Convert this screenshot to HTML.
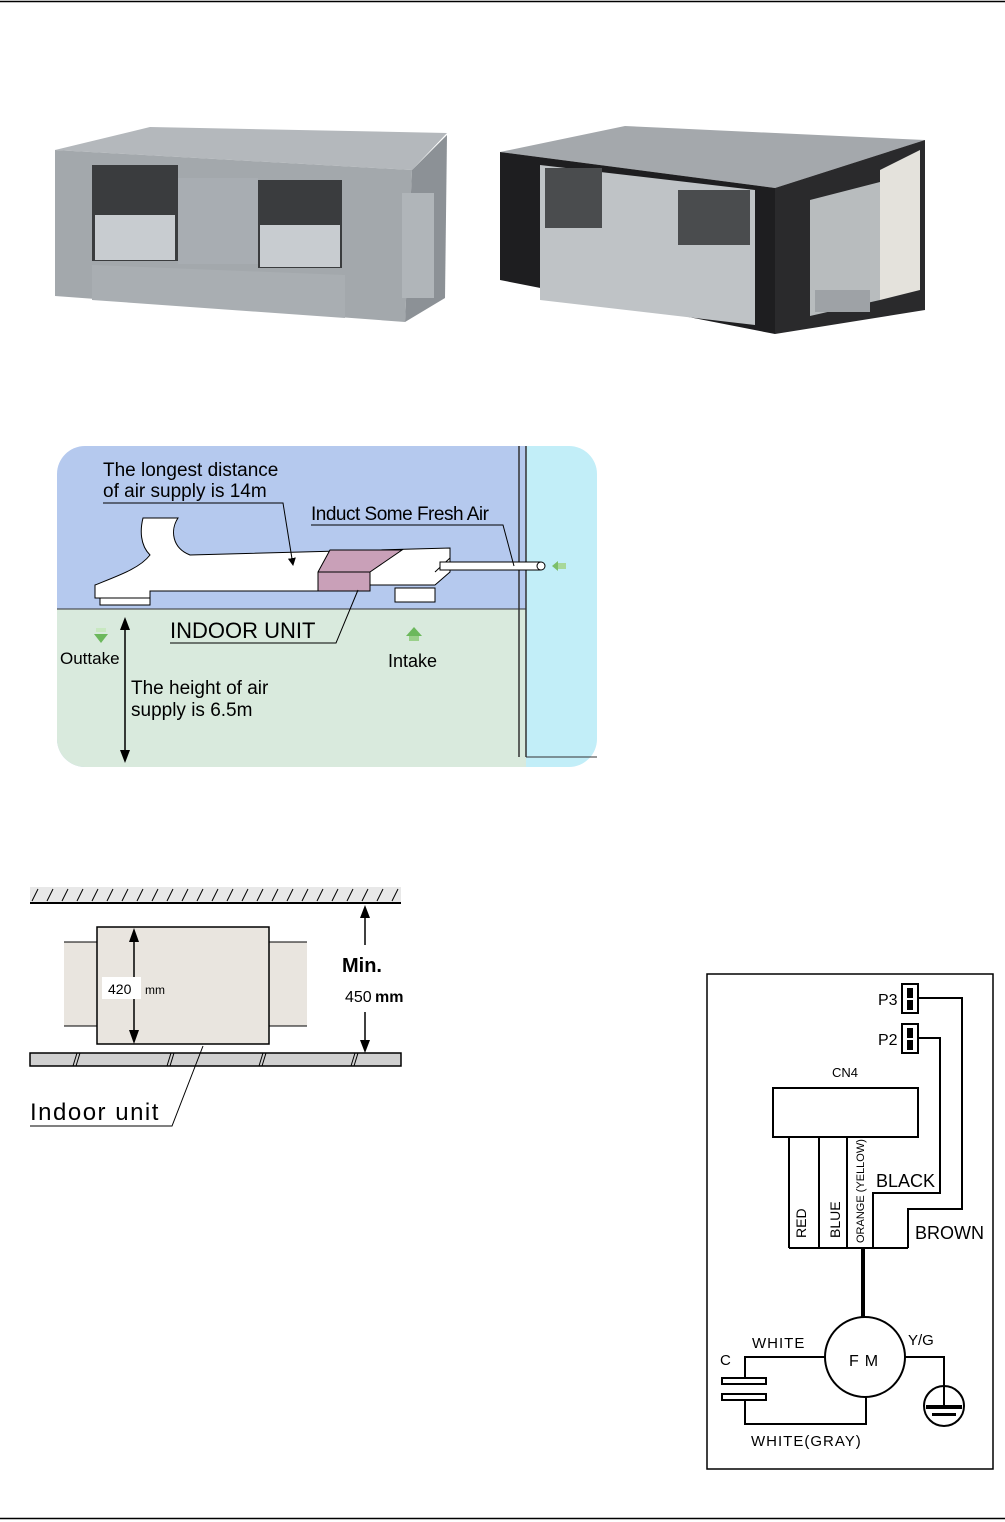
<!DOCTYPE html>
<html><head><meta charset="utf-8"><style>
html,body{margin:0;padding:0;background:#fff}
svg{display:block}
text{font-family:"Liberation Sans",Arial,sans-serif}
</style></head><body>
<svg width="1005" height="1522" viewBox="0 0 1005 1522" xmlns="http://www.w3.org/2000/svg">
<line x1="0" y1="1.5" x2="1005" y2="1.5" stroke="#000" stroke-width="1.5"/>
<line x1="0" y1="1518.5" x2="1005" y2="1518.5" stroke="#000" stroke-width="1.5"/>

<!-- left unit photo -->
<polygon points="55,150 150,127 447,133 412,170" fill="#b4b8bc"/>
<polygon points="55,150 412,170 405,322 55,296" fill="#a3a8ac"/>
<polygon points="412,170 447,135 445,298 405,322" fill="#8c9196"/>
<rect x="92" y="165" width="86" height="96" fill="#3a3c3e"/>
<rect x="258" y="180" width="84" height="88" fill="#3a3c3e"/>
<rect x="95" y="215" width="80" height="45" fill="#c8ccd0"/>
<rect x="260" y="225" width="80" height="42" fill="#c8ccd0"/>
<rect x="178" y="178" width="80" height="86" fill="#a8adb2"/>
<rect x="402" y="193" width="32" height="105" fill="#b0b5b9"/>
<polygon points="92,265 345,275 345,318 92,300" fill="#a9aeb2"/>

<!-- right unit photo -->
<polygon points="500,152 625,126 925,140 775,188" fill="#a4a8ac"/>
<polygon points="500,152 775,188 775,334 500,280" fill="#1e1e20"/>
<polygon points="775,188 925,140 925,310 775,334" fill="#2a2a2c"/>
<polygon points="540,165 755,190 755,325 540,300" fill="#bfc3c6"/>
<rect x="545" y="168" width="57" height="60" fill="#4a4c4e"/>
<rect x="678" y="190" width="72" height="55" fill="#4a4c4e"/>
<polygon points="810,200 880,182 880,300 810,316" fill="#b8bcbe"/>
<polygon points="880,170 920,150 920,290 880,300" fill="#e4e2dc"/>
<rect x="815" y="290" width="55" height="22" fill="#9ea2a6"/>

<!-- air supply diagram -->
<defs><clipPath id="cp"><rect x="57" y="446" width="540" height="321" rx="28"/></clipPath>
<marker id="ah" markerWidth="8" markerHeight="8" refX="7" refY="4" orient="auto"><path d="M0,0 L8,4 L0,8 z" fill="#000"/></marker></defs>
<g clip-path="url(#cp)">
<rect x="57" y="446" width="470" height="321" fill="#b5c9ee"/>
<rect x="57" y="609" width="470" height="160" fill="#d9eadd"/>
<rect x="526" y="446" width="75" height="321" fill="#c2eef8"/>
</g>
<line x1="57" y1="609" x2="526" y2="609" stroke="#333" stroke-width="1"/>
<line x1="519" y1="446" x2="519" y2="757" stroke="#333" stroke-width="1.5"/>
<line x1="526" y1="446" x2="526" y2="757" stroke="#333" stroke-width="1.5"/>
<line x1="526" y1="757" x2="597" y2="757" stroke="#333" stroke-width="1"/>
<!-- duct -->
<rect x="100" y="595" width="50" height="10" fill="#fff" stroke="#000"/>
<rect x="395" y="588" width="40" height="14" fill="#fff" stroke="#000"/>
<path d="M143,518 L178,518 C170,530 172,548 190,555 L450,548 L450,572 L435,585 L330,585 L330,591 L150,591 L150,598 L95,598 L95,585 C120,575 140,568 150,555 C140,545 140,530 143,518 z" fill="#fff" stroke="#000"/>
<polygon points="330,550 402,550 370,572 370,591 318,591 318,572" fill="#c9a0b8" stroke="#000"/>
<line x1="318" y1="572" x2="370" y2="572" stroke="#000"/>
<line x1="435" y1="572" x2="450" y2="558" stroke="#000"/>
<rect x="440" y="562" width="100" height="8" fill="#fff" stroke="#000"/>
<circle cx="541" cy="566" r="4" fill="#fff" stroke="#000"/>
<polygon points="552,566 558,561 558,571" fill="#7cbf6a"/><rect x="558" y="563" width="8" height="6" fill="#a8d89a"/>
<text x="103" y="476" font-size="19">The longest distance</text>
<text x="103" y="497" font-size="19">of air supply is 14m</text>
<polyline points="103,503 283,503 293,565" fill="none" stroke="#000" marker-end="url(#ah)"/>
<text x="311" y="520" font-size="19" letter-spacing="-0.5">Induct Some Fresh Air</text>
<polyline points="311,525 503,525 514,566" fill="none" stroke="#000"/>
<text x="170" y="638" font-size="22">INDOOR UNIT</text>
<polyline points="170,643 336,643 358,590" fill="none" stroke="#000"/>
<line x1="125" y1="620" x2="125" y2="760" stroke="#000" stroke-width="1.5"/>
<path d="M120,630 L125,617 L130,630 z M120,750 L125,763 L130,750 z" fill="#000"/>
<text x="60" y="664" font-size="17">Outtake</text>
<rect x="96" y="628" width="10" height="4" fill="#c8e8c0"/>
<path d="M94,634 L108,634 L101,643 z" fill="#6cb85c"/>
<path d="M406,636 L422,636 L414,627 z" fill="#6cb85c"/><rect x="409" y="636" width="10" height="5" fill="#9ad08a"/>
<text x="388" y="667" font-size="18">Intake</text>
<text x="131" y="694" font-size="19">The height of air</text>
<text x="131" y="716" font-size="19">supply is 6.5m</text>

<!-- clearance diagram -->
<rect x="30" y="887" width="371" height="16" fill="#e8e8e8"/>
<g stroke="#000" stroke-width="1">
<path d="M32,901 L38,889 M47,901 L53,889 M62,901 L68,889 M77,901 L83,889 M92,901 L98,889 M107,901 L113,889 M122,901 L128,889 M137,901 L143,889 M152,901 L158,889 M167,901 L173,889 M182,901 L188,889 M197,901 L203,889 M212,901 L218,889 M227,901 L233,889 M242,901 L248,889 M257,901 L263,889 M272,901 L278,889 M287,901 L293,889 M302,901 L308,889 M317,901 L323,889 M332,901 L338,889 M347,901 L353,889 M362,901 L368,889 M377,901 L383,889 M392,901 L398,889"/>
</g>
<line x1="30" y1="903" x2="401" y2="903" stroke="#000" stroke-width="2"/>
<rect x="30" y="1053" width="371" height="13" fill="#d0d0d0" stroke="#000" stroke-width="1.5"/>
<path d="M73,1066 L77,1053 M76,1066 L80,1053 M167,1066 L171,1053 M170,1066 L174,1053 M259,1066 L263,1053 M262,1066 L266,1053 M351,1066 L355,1053 M354,1066 L358,1053" stroke="#000"/>
<rect x="64" y="942" width="40" height="84" fill="#e9e5df"/>
<rect x="262" y="942" width="45" height="84" fill="#e9e5df"/>
<path d="M64,942 L97,942 M64,1026 L97,1026 M269,942 L307,942 M269,1026 L307,1026" stroke="#000"/>
<rect x="97" y="927" width="172" height="117" fill="#e9e5df" stroke="#000" stroke-width="1.5"/>
<line x1="134" y1="932" x2="134" y2="1040" stroke="#000" stroke-width="1.5"/>
<path d="M129,942 L134,928 L139,942 z M129,1030 L134,1044 L139,1030 z" fill="#000"/>
<rect x="102" y="977" width="39" height="22" fill="#fff"/>
<text x="108" y="994" font-size="14">420</text><text x="145" y="994" font-size="12">mm</text>
<line x1="365" y1="910" x2="365" y2="945" stroke="#000" stroke-width="1.5"/>
<line x1="365" y1="1012" x2="365" y2="1050" stroke="#000" stroke-width="1.5"/>
<path d="M360,918 L365,905 L370,918 z M360,1040 L365,1053 L370,1040 z" fill="#000"/>
<text x="342" y="972" font-size="20" font-weight="bold">Min.</text>
<text x="345" y="1002" font-size="16">450</text><text x="375" y="1002" font-size="16" font-weight="bold">mm</text>
<text x="30" y="1120" font-size="24" letter-spacing="1.5">Indoor  unit</text>
<polyline points="30,1126 172,1126 203,1046" fill="none" stroke="#000"/>

<!-- wiring -->
<rect x="707" y="974" width="286" height="495" fill="none" stroke="#000" stroke-width="1.5"/>
<g fill="none" stroke="#000" stroke-width="2">
<rect x="902" y="984" width="16" height="29"/>
<rect x="902" y="1024" width="16" height="29"/>
<rect x="773" y="1088" width="145" height="49"/>
<polyline points="918,998 962,998 962,1209 908,1209 908,1248"/>
<polyline points="918,1038 940,1038 940,1193 873,1193 873,1248"/>
<path d="M789,1137 V1248 M819,1137 V1248 M847,1137 V1248 M789,1248 H908"/>
<circle cx="865" cy="1357" r="40"/>
<polyline points="825,1357 745,1357 745,1380"/>
<polyline points="745,1398 745,1424 866,1424 866,1397"/>
<polyline points="905,1357 944,1357 944,1405"/>
<circle cx="944" cy="1406" r="20"/>
</g>
<rect x="907" y="988" width="6" height="10" fill="#000"/><rect x="907" y="1000" width="6" height="10" fill="#000"/>
<rect x="907" y="1028" width="6" height="10" fill="#000"/><rect x="907" y="1040" width="6" height="10" fill="#000"/>
<line x1="863" y1="1248" x2="863" y2="1318" stroke="#000" stroke-width="4"/>
<rect x="722" y="1378" width="44" height="6" fill="#fff" stroke="#000" stroke-width="2"/>
<rect x="722" y="1394" width="44" height="6" fill="#fff" stroke="#000" stroke-width="2"/>
<rect x="926" y="1405" width="36" height="4" fill="#000"/><rect x="932" y="1413" width="24" height="3" fill="#000"/>
<g font-family="'DejaVu Sans Condensed','Liberation Sans',sans-serif">
<text x="878" y="1005" font-size="16">P3</text>
<text x="878" y="1045" font-size="16">P2</text>
<text x="832" y="1077" font-size="13">CN4</text>
<text x="876" y="1187" font-size="18">BLACK</text>
<text x="915" y="1239" font-size="18">BROWN</text>
<text transform="translate(806,1238) rotate(-90)" font-size="14">RED</text>
<text transform="translate(840,1238) rotate(-90)" font-size="14">BLUE</text>
<text transform="translate(864,1243) rotate(-90)" font-size="11">ORANGE (YELLOW)</text>
<text x="752" y="1348" font-size="15" letter-spacing="1">WHITE</text>
<text x="720" y="1365" font-size="15">C</text>
<text x="908" y="1345" font-size="15">Y/G</text>
<text x="849" y="1366" font-size="16" letter-spacing="6">FM</text>
<text x="751" y="1446" font-size="15" letter-spacing="1">WHITE(GRAY)</text>
</g>
</svg>
</body></html>
